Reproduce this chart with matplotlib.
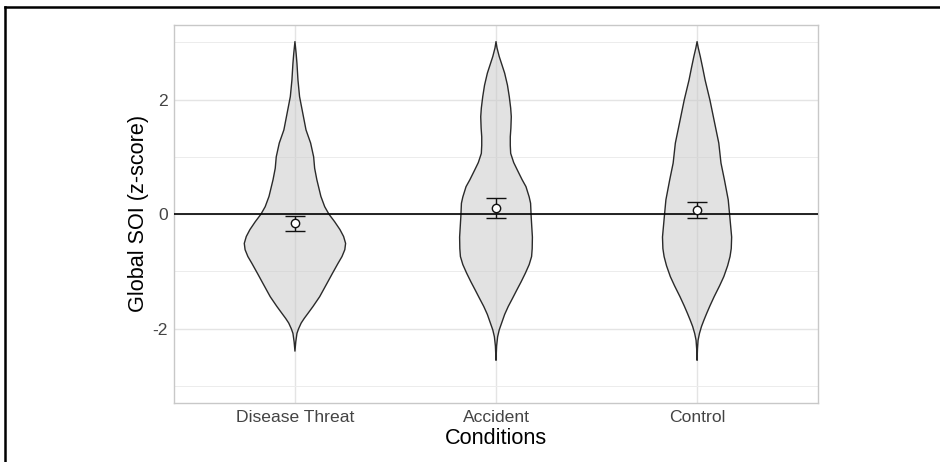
import numpy as np
import matplotlib
matplotlib.use("Agg")
import matplotlib.pyplot as plt
from matplotlib.lines import Line2D
from matplotlib.ticker import FixedLocator

plt.rcParams['font.family'] = ['Liberation Sans', 'DejaVu Sans']

conditions = ['Disease Threat', 'Accident', 'Control']

# violin outlines: z-score level and half width (x units)
dt_y = [3.01, 2.80, 2.63, 2.34, 2.05, 1.76, 1.47, 1.24, 1.00, 0.80, 0.60, 0.31,
        0.13, 0.00, -0.13, -0.27, -0.39, -0.51, -0.62, -0.74, -0.86, -1.03,
        -1.21, -1.44, -1.61, -1.73, -1.82, -1.90, -2.00, -2.08, -2.23, -2.39]
dt_w = [0.000, 0.006, 0.010, 0.015, 0.023, 0.039, 0.055, 0.078, 0.093, 0.098,
        0.109, 0.129, 0.148, 0.169, 0.197, 0.224, 0.242, 0.252, 0.248, 0.234,
        0.214, 0.187, 0.159, 0.123, 0.090, 0.065, 0.046, 0.031, 0.018, 0.010,
        0.004, 0.000]

acc_y = [3.01, 2.90, 2.75, 2.60, 2.46, 2.25, 2.05, 1.85, 1.70, 1.50, 1.35, 1.20,
         1.06, 0.90, 0.77, 0.60, 0.48, 0.30, 0.19, -0.05, -0.40, -0.60, -0.74,
         -0.88, -1.03, -1.18, -1.32, -1.47, -1.61, -1.75, -1.90, -2.02, -2.14,
         -2.30, -2.55]
acc_w = [0.000, 0.005, 0.016, 0.030, 0.043, 0.057, 0.066, 0.073, 0.076, 0.074,
         0.071, 0.071, 0.073, 0.088, 0.106, 0.130, 0.149, 0.165, 0.172, 0.175,
         0.181, 0.180, 0.177, 0.165, 0.146, 0.125, 0.104, 0.082, 0.061, 0.043,
         0.028, 0.016, 0.008, 0.003, 0.000]

ctl_y = [3.01, 2.90, 2.75, 2.55, 2.34, 1.99, 1.58, 1.24, 0.89, 0.60, 0.25,
         -0.05, -0.40, -0.60, -0.74, -0.90, -1.09, -1.25, -1.44, -1.60, -1.73,
         -1.85, -1.96, -2.08, -2.20, -2.35, -2.55]
ctl_w = [0.000, 0.006, 0.016, 0.028, 0.040, 0.064, 0.088, 0.108, 0.119, 0.136,
         0.155, 0.163, 0.172, 0.170, 0.164, 0.152, 0.133, 0.112, 0.085, 0.064,
         0.048, 0.034, 0.022, 0.012, 0.005, 0.002, 0.000]

# means with error bar ends
means = np.array([-0.16, 0.10, 0.075])
ci_low = np.array([-0.30, -0.06, -0.07])
ci_high = np.array([-0.04, 0.29, 0.22])

profiles = [(dt_y, dt_w), (acc_y, acc_w), (ctl_y, ctl_w)]
xpos = np.arange(1, len(conditions) + 1)

fig = plt.figure(figsize=(9.4, 4.62), dpi=100)
ax = fig.add_axes([0.18543, 0.12835, 0.68447, 0.81753])

# grid like ggplot theme_light
ax.set_axisbelow(True)
ax.yaxis.set_minor_locator(FixedLocator([-3, -1, 1, 3]))
ax.grid(which='major', color='#e4e4e4', lw=1.0)
ax.grid(which='minor', axis='y', color='#ececec', lw=0.7)

for x, (yy, ww) in zip(xpos, profiles):
    yy = np.asarray(yy)
    ww = np.asarray(ww)
    xs = np.concatenate([x - ww, (x + ww)[::-1]])
    ys = np.concatenate([yy, yy[::-1]])
    ax.fill(xs, ys, facecolor=(0.78, 0.78, 0.78, 0.5), edgecolor='#2a2a2a',
            lw=1.0, zorder=2, joinstyle='round')

ax.axhline(0, color='black', lw=1.2, zorder=3)

ax.errorbar(xpos, means, yerr=[means - ci_low, ci_high - means], fmt='none',
            ecolor='#111111', elinewidth=1.0, capsize=7, capthick=1.0, zorder=4)
ax.plot(xpos, means, 'o', mfc='white', mec='#111111', ms=6, mew=1.0, zorder=5)

ax.set_xlim(0.4, 3.6)
ax.set_ylim(-3.29, 3.30)
ax.set_xticks(xpos)
ax.set_xticklabels(conditions)
ax.set_yticks([-2, 0, 2])
ax.set_yticklabels(['-2', '0', '2'])
ax.tick_params(which='both', length=0, labelsize=12.6, labelcolor='#444444')
ax.tick_params(axis='x', pad=5.6)
ax.tick_params(axis='y', pad=4.75)

for sp in ax.spines.values():
    sp.set_color('#c8c8c8')
    sp.set_linewidth(1.0)

ax.set_xlabel('Conditions', fontsize=15.6)
ax.xaxis.set_label_coords(0.5, -0.067)
ax.set_ylabel('Global SOI (z-score)', fontsize=15.6)
ax.yaxis.set_label_coords(-0.039, 0.5)

# page frame on the top and left edges
fig.add_artist(Line2D([5 / 940, 1], [1 - 6.5 / 462] * 2,
                      transform=fig.transFigure, color='black', lw=1.8))
fig.add_artist(Line2D([5 / 940] * 2, [0, 1 - 6.5 / 462],
                      transform=fig.transFigure, color='black', lw=1.8))

fig.savefig('out.png', dpi=100)
